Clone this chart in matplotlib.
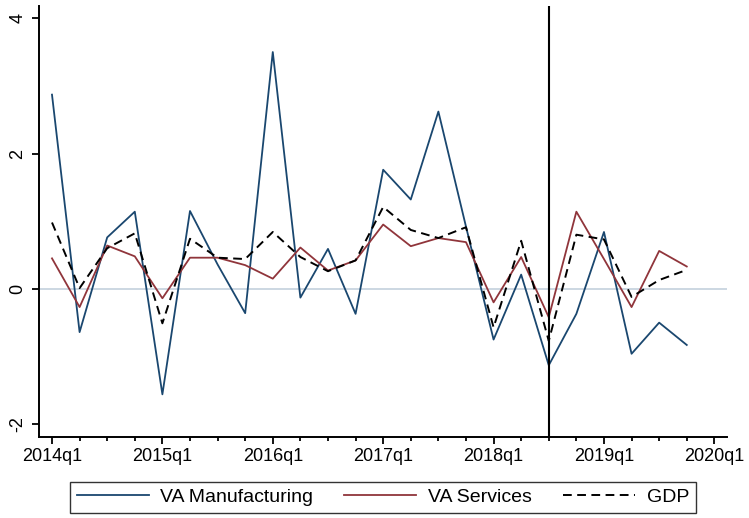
import numpy as np
import matplotlib
matplotlib.use("Agg")
import matplotlib.pyplot as plt

plt.rcParams['font.family'] = ['Liberation Sans', 'DejaVu Sans']

# quarterly growth, 2014q1 - 2019q4
years = [2014, 2015, 2016, 2017, 2018, 2019, 2020]
manuf = [2.87, -0.64, 0.76, 1.14, -1.56, 1.15, 0.36, -0.36,
         3.50, -0.13, 0.59, -0.37, 1.76, 1.32, 2.62, 0.92,
         -0.75, 0.21, -1.13, -0.37, 0.84, -0.96, -0.50, -0.83]
serv = [0.45, -0.27, 0.64, 0.48, -0.14, 0.46, 0.46, 0.35,
        0.15, 0.61, 0.27, 0.42, 0.95, 0.63, 0.75, 0.69,
        -0.20, 0.47, -0.42, 1.14, 0.44, -0.27, 0.56, 0.33]
gdp = [0.98, 0.01, 0.60, 0.82, -0.51, 0.74, 0.46, 0.44,
       0.84, 0.47, 0.26, 0.42, 1.21, 0.87, 0.75, 0.91,
       -0.57, 0.71, -0.77, 0.80, 0.73, -0.12, 0.13, 0.28]
break_q = 18  # 2018q3

q = np.arange(len(manuf))

fig = plt.figure(figsize=(7.49, 5.18), dpi=100)
ax = fig.add_axes([0.0521, 0.1564, 0.9186, 0.832])

ax.axhline(0, color='#c8d4df', lw=1.3, zorder=1)
ax.plot(q, manuf, color='#1a476f', lw=1.3, label='VA Manufacturing', zorder=3)
ax.plot(q, serv, color='#90353b', lw=1.3, label='VA Services', zorder=3)
ax.plot(q, gdp, color='black', lw=1.4, ls=(0, (4.5, 2.8)), label='GDP', zorder=3)
ax.axvline(break_q, color='black', lw=1.5, zorder=4)

ax.set_xlim(-0.47, 24.46)
ax.set_ylim(-2.19, 4.18)

ax.set_xticks([(y - 2014) * 4 for y in years])
ax.set_xticklabels([f'{y}q1' for y in years])
ax.set_xticks(q, minor=True)
ax.set_yticks([-2, 0, 2, 4])
ax.set_yticklabels(['-2', '0', '2', '4'], rotation=90, va='center')

for s in ['top', 'right']:
    ax.spines[s].set_visible(False)
for s in ['left', 'bottom']:
    ax.spines[s].set_linewidth(1.4)

ax.tick_params(axis='both', which='major', length=5, width=1.3, labelsize=13, pad=3)
ax.tick_params(axis='x', which='minor', length=2.8, width=1.3)
ax.tick_params(axis='y', pad=4)

leg = fig.legend(loc='center', bbox_to_anchor=(0.511, 0.0396), ncol=3, fontsize=14,
                 frameon=True, fancybox=False, edgecolor='black',
                 handlelength=3.7, handletextpad=0.6, columnspacing=1.6,
                 borderpad=0.35, borderaxespad=0)
leg.get_frame().set_linewidth(1.0)

fig.savefig('out.png', dpi=100)
